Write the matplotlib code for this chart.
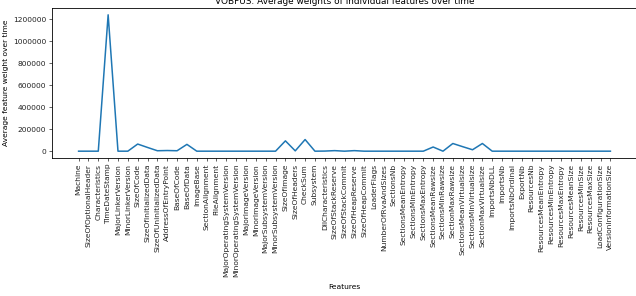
import numpy as np
import matplotlib
matplotlib.use("Agg")
import matplotlib.pyplot as plt

features = [
    "Machine", "SizeOfOptionalHeader", "Characteristics", "TimeDateStamp",
    "MajorLinkerVersion", "MinorLinkerVersion", "SizeOfCode",
    "SizeOfInitializedData", "SizeOfUninitializedData", "AddressOfEntryPoint",
    "BaseOfCode", "BaseOfData", "ImageBase", "SectionAlignment", "FileAlignment",
    "MajorOperatingSystemVersion", "MinorOperatingSystemVersion",
    "MajorImageVersion", "MinorImageVersion", "MajorSubsystemVersion",
    "MinorSubsystemVersion", "SizeOfImage", "SizeOfHeaders", "CheckSum",
    "Subsystem", "DllCharacteristics", "SizeOfStackReserve", "SizeOfStackCommit",
    "SizeOfHeapReserve", "SizeOfHeapCommit", "LoaderFlags", "NumberOfRvaAndSizes",
    "SectionsNb", "SectionsMeanEntropy", "SectionsMinEntropy", "SectionsMaxEntropy",
    "SectionsMeanRawsize", "SectionsMinRawsize", "SectionMaxRawsize",
    "SectionsMeanVirtualsize", "SectionsMinVirtualsize", "SectionMaxVirtualsize",
    "ImportsNbDLL", "ImportsNb", "ImportsNbOrdinal", "ExportNb", "ResourcesNb",
    "ResourcesMeanEntropy", "ResourcesMinEntropy", "ResourcesMaxEntropy",
    "ResourcesMeanSize", "ResourcesMinSize", "ResourcesMaxSize",
    "LoadConfigurationSize", "VersionInformationSize",
]

weights = [
    0, 0, 0, 1242000, 0, 0, 65000, 34000, 4000, 6000,
    4000, 62000, 0, 0, 0, 0, 0, 0, 0, 0,
    0, 94000, 3000, 106000, 0, 1000, 5000, 0, 5000, 0,
    0, 0, 0, 0, 0, 0, 38000, 0, 70000, 41000,
    13000, 70000, 0, 0, 0, 0, 0, 0, 0, 0,
    0, 0, 0, 0, 0,
]

fs = 5.4

fig = plt.figure(figsize=(6.36, 2.96), dpi=100)
ax = fig.add_axes([52 / 636, 138 / 296, 585 / 636, 150 / 296])

x = np.arange(len(features))
ax.plot(x, weights, color="#1f77b4", linewidth=1.1)

ax.set_xticks(x)
ax.set_xticklabels(features, rotation=90, fontsize=fs)
ax.tick_params(axis="both", labelsize=fs, length=2.2, width=0.5, pad=2,
               colors="#222222")
ax.ticklabel_format(axis="y", style="plain", useOffset=False)
ax.set_xlabel("Features", fontsize=fs, labelpad=5)
ax.set_ylabel("Average feature weight over time", fontsize=fs, labelpad=3)
ax.set_title("VOBFUS: Average weights of individual features over time",
             fontsize=6.4, pad=3)
for s in ax.spines.values():
    s.set_linewidth(0.6)

fig.savefig("out.png", dpi=100)
